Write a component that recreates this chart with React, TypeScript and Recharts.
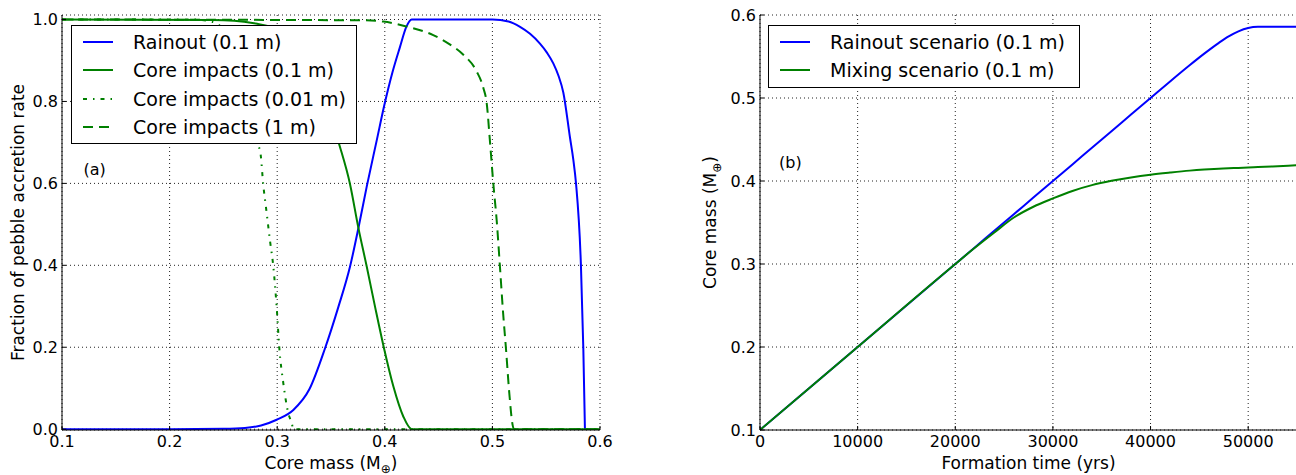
import {
  LineChart,
  Line,
  XAxis,
  YAxis,
  CartesianGrid,
  Legend,
  ReferenceDot,
} from "recharts";

const FONT = "DejaVu Sans";
const BLUE = "#0000ff";
const GREEN = "#008000";

// panel (a): fraction of pebble accretion rate vs core mass
const massTicks = [0.1, 0.2, 0.3, 0.4, 0.5, 0.6];
const fractionTicks = [0, 0.2, 0.4, 0.6, 0.8, 1.0];

const rainoutMass = [0.1, 0.2, 0.25, 0.27, 0.285, 0.2995, 0.315, 0.33, 0.3444, 0.3568, 0.3677, 0.3754, 0.3832, 0.3925, 0.4, 0.407, 0.414, 0.42, 0.425, 0.45, 0.5, 0.515, 0.5257, 0.535, 0.5442, 0.551, 0.5566, 0.5615, 0.5659, 0.5721, 0.5752, 0.5777, 0.5823, 0.5845, 0.586];
const rainoutFrac = [0, 0, 0.001, 0.003, 0.009, 0.023, 0.047, 0.098, 0.197, 0.298, 0.397, 0.49, 0.592, 0.705, 0.796, 0.87, 0.932, 0.982, 1, 1, 1, 0.995, 0.982, 0.965, 0.941, 0.918, 0.893, 0.862, 0.822, 0.712, 0.658, 0.6, 0.398, 0.197, 0];

const impactMass = [0.1, 0.24, 0.26, 0.28, 0.293, 0.31, 0.32, 0.33, 0.34, 0.35, 0.3568, 0.3677, 0.3754, 0.3832, 0.391, 0.3993, 0.408, 0.4172, 0.425, 0.6];
const impactFrac = [1, 0.999, 0.997, 0.99, 0.983, 0.96, 0.935, 0.895, 0.84, 0.765, 0.703, 0.598, 0.492, 0.397, 0.298, 0.197, 0.104, 0.031, 0, 0];

const fineMass = [0.1, 0.22, 0.235, 0.245, 0.255, 0.265, 0.273, 0.2785, 0.2825, 0.2846, 0.287, 0.2896, 0.2933, 0.2964, 0.2995, 0.302, 0.3057, 0.3103, 0.3135, 0.315, 0.6];
const fineFrac = [1, 1, 0.997, 0.988, 0.965, 0.92, 0.86, 0.78, 0.695, 0.671, 0.598, 0.541, 0.46, 0.397, 0.298, 0.197, 0.112, 0.039, 0.015, 0, 0];

const coarseMass = [0.1, 0.38, 0.3986, 0.42, 0.445, 0.46, 0.473, 0.4854, 0.4916, 0.4947, 0.4978, 0.5009, 0.504, 0.507, 0.51, 0.5126, 0.5157, 0.5188, 0.52, 0.6];
const coarseFrac = [1, 0.998, 0.995, 0.983, 0.962, 0.94, 0.914, 0.873, 0.833, 0.796, 0.7, 0.598, 0.509, 0.397, 0.282, 0.197, 0.088, 0.01, 0, 0];

// panel (b): core mass vs formation time
const timeTicks = [0, 10000, 20000, 30000, 40000, 50000];
const coreTicks = [0.1, 0.2, 0.3, 0.4, 0.5, 0.6];
const formationTime = [0, 10000, 20000, 22000, 24000, 26000, 28000, 30000, 32000, 34000, 36000, 38000, 40000, 42000, 44000, 45500, 47000, 48000, 49000, 50000, 51000, 52500, 55000];
const rainoutCore = [0.1, 0.2, 0.3, 0.32, 0.34, 0.36, 0.38, 0.4, 0.42, 0.44, 0.46, 0.48, 0.5, 0.52, 0.5395, 0.5535, 0.5665, 0.5742, 0.5803, 0.5843, 0.5857, 0.5858, 0.5858];
const mixingCore = [0.1, 0.2, 0.3, 0.3195, 0.338, 0.356, 0.369, 0.379, 0.388, 0.395, 0.4002, 0.4043, 0.4076, 0.4102, 0.4125, 0.4138, 0.4148, 0.4153, 0.4158, 0.4163, 0.4168, 0.4176, 0.419];

const pack = (xs: number[], ys: number[]) => xs.map((x, i) => ({ x, y: ys[i] }));

const leftSeries = [
  { name: "Rainout (0.1 m)", color: BLUE, dash: undefined, data: pack(rainoutMass, rainoutFrac) },
  { name: "Core impacts (0.1 m)", color: GREEN, dash: undefined, data: pack(impactMass, impactFrac) },
  { name: "Core impacts (0.01 m)", color: GREEN, dash: "4 6 1.5 6", data: pack(fineMass, fineFrac) },
  { name: "Core impacts (1 m)", color: GREEN, dash: "10 6", data: pack(coarseMass, coarseFrac) },
];

const rightSeries = [
  { name: "Rainout scenario (0.1 m)", color: BLUE, dash: undefined, data: pack(formationTime, rainoutCore) },
  { name: "Mixing scenario (0.1 m)", color: GREEN, dash: undefined, data: pack(formationTime, mixingCore) },
];

type Item = { name: string; color: string; dash?: string };

function BoxLegend({ items, width }: { items: Item[]; width: number }) {
  return (
    <div
      style={{
        width,
        boxSizing: "border-box",
        border: "1px solid #000",
        background: "#fff",
        padding: "2px 0",
        fontFamily: FONT,
        fontSize: 19,
        color: "#000",
      }}
    >
      {items.map((it) => (
        <div key={it.name} style={{ display: "flex", alignItems: "center", height: 28.3 }}>
          <svg width={61} height={10} style={{ flex: "none" }}>
            <line x1={11} x2={41} y1={5} y2={5} stroke={it.color} strokeWidth={2} strokeDasharray={it.dash} />
          </svg>
          <span style={{ whiteSpace: "nowrap" }}>{it.name}</span>
        </div>
      ))}
    </div>
  );
}

function XTitle(props: any) {
  const vb = props.viewBox || { x: 0, y: 0, width: 0 };
  return (
    <text x={vb.x + vb.width / 2} y={vb.y + 39} textAnchor="middle" fontFamily={FONT} fontSize={17} fill="#000">
      {props.text}
      {props.sub ? (
        <>
          (M<tspan fontSize={12} dy={4}>⊕</tspan>
          <tspan dy={-4}>)</tspan>
        </>
      ) : null}
    </text>
  );
}

function YTitle(props: any) {
  const vb = props.viewBox || { x: 0, y: 0, height: 0 };
  const cx = vb.x + props.dx;
  const cy = vb.y + vb.height / 2;
  return (
    <text
      x={cx}
      y={cy}
      transform={`rotate(-90, ${cx}, ${cy})`}
      textAnchor="middle"
      fontFamily={FONT}
      fontSize={17}
      fill="#000"
    >
      {props.text}
      {props.sub ? (
        <>
          (M<tspan fontSize={12} dy={5}>⊕</tspan>
          <tspan dy={-5}>)</tspan>
        </>
      ) : null}
    </text>
  );
}

function PanelTag(props: any) {
  const vb = props.viewBox || { x: 0, y: 0 };
  return (
    <text x={vb.x} y={vb.y} dominantBaseline="central" fontFamily={FONT} fontSize={16} fill="#000">
      {props.text}
    </text>
  );
}

const tickStyle = { fill: "#000", fontSize: 16, fontFamily: FONT };
const frame = { stroke: "#000", strokeWidth: 1 };

export default function App() {
  return (
    <div
      style={{
        position: "absolute",
        left: 0,
        top: 0,
        width: 1296,
        height: 475,
        overflow: "hidden",
        background: "#fff",
      }}
    >
      <div style={{ position: "absolute", left: 0, top: 0 }}>
        <LineChart width={640} height={475} margin={{ top: 15, right: 40, bottom: 0, left: 0 }}>
          <CartesianGrid stroke="#222" strokeDasharray="1 3" />
          <XAxis
            dataKey="x"
            type="number"
            domain={[0.1, 0.6]}
            ticks={massTicks}
            tickFormatter={(v: number) => v.toFixed(1)}
            height={45}
            tickSize={-4}
            tickMargin={10}
            tick={tickStyle}
            axisLine={frame}
            tickLine={frame}
            allowDataOverflow
            label={<XTitle text="Core mass " sub />}
          />
          <XAxis
            xAxisId="top"
            orientation="top"
            type="number"
            domain={[0.1, 0.6]}
            ticks={massTicks}
            height={0}
            tickSize={-4}
            tick={false}
            axisLine={frame}
            tickLine={frame}
            allowDataOverflow
          />
          <YAxis
            type="number"
            domain={[-0.002, 1.011]}
            ticks={fractionTicks}
            tickFormatter={(v: number) => v.toFixed(1)}
            width={62}
            tickSize={-4}
            tickMargin={8}
            tick={tickStyle}
            axisLine={frame}
            tickLine={frame}
            allowDataOverflow
            label={<YTitle text="Fraction of pebble accretion rate" dx={24} />}
          />
          <YAxis
            yAxisId="right"
            orientation="right"
            type="number"
            domain={[-0.002, 1.011]}
            ticks={fractionTicks}
            width={0}
            tickSize={-4}
            tick={false}
            axisLine={frame}
            tickLine={frame}
            allowDataOverflow
          />
          {leftSeries.map((s) => (
            <Line
              key={s.name}
              data={s.data}
              dataKey="y"
              name={s.name}
              type="monotone"
              stroke={s.color}
              strokeWidth={2}
              strokeDasharray={s.dash}
              dot={false}
              activeDot={false}
              isAnimationActive={false}
            />
          ))}
          <ReferenceDot x={0.12} y={0.633} r={0} fill="none" stroke="none" label={<PanelTag text="(a)" />} />
          <Legend
            layout="horizontal"
            verticalAlign="middle"
            align="center"
            wrapperStyle={{ left: 71, top: 25, width: 286 }}
            content={() => <BoxLegend items={leftSeries} width={286} />}
          />
        </LineChart>
      </div>

      <div style={{ position: "absolute", left: 680, top: 0 }}>
        <LineChart width={680} height={475} margin={{ top: 15, right: 63, bottom: 0, left: 0 }}>
          <CartesianGrid stroke="#222" strokeDasharray="1 3" />
          <XAxis
            dataKey="x"
            type="number"
            domain={[0, 55000]}
            ticks={timeTicks}
            height={45}
            tickSize={-4}
            tickMargin={10}
            tick={tickStyle}
            axisLine={frame}
            tickLine={frame}
            allowDataOverflow
            label={<XTitle text="Formation time (yrs)" />}
          />
          <XAxis
            xAxisId="top"
            orientation="top"
            type="number"
            domain={[0, 55000]}
            ticks={timeTicks}
            height={0}
            tickSize={-4}
            tick={false}
            axisLine={frame}
            tickLine={frame}
            allowDataOverflow
          />
          <YAxis
            type="number"
            domain={[0.1, 0.6]}
            ticks={coreTicks}
            tickFormatter={(v: number) => v.toFixed(1)}
            width={80}
            tickSize={-4}
            tickMargin={8}
            tick={tickStyle}
            axisLine={frame}
            tickLine={frame}
            allowDataOverflow
            label={<YTitle text="Core mass " sub dx={36} />}
          />
          {rightSeries.map((s) => (
            <Line
              key={s.name}
              data={s.data}
              dataKey="y"
              name={s.name}
              type="monotone"
              stroke={s.color}
              strokeWidth={2}
              dot={false}
              activeDot={false}
              isAnimationActive={false}
            />
          ))}
          <ReferenceDot x={1950} y={0.4217} r={0} fill="none" stroke="none" label={<PanelTag text="(b)" />} />
          <Legend
            layout="horizontal"
            verticalAlign="middle"
            align="center"
            wrapperStyle={{ left: 88, top: 25, width: 312 }}
            content={() => <BoxLegend items={rightSeries} width={312} />}
          />
        </LineChart>
      </div>
    </div>
  );
}
